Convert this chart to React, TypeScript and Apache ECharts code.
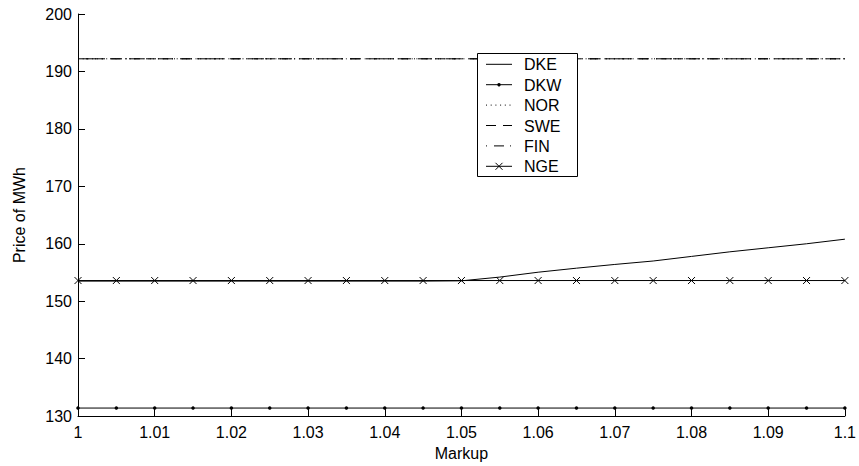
import React, { useEffect, useRef } from "react";
import * as echarts from "echarts";

const markup = [1, 1.005, 1.01, 1.015, 1.02, 1.025, 1.03, 1.035, 1.04, 1.045, 1.05, 1.055, 1.06, 1.065, 1.07, 1.075, 1.08, 1.085, 1.09, 1.095, 1.1];
const dke = [153.5, 153.5, 153.5, 153.5, 153.5, 153.5, 153.5, 153.5, 153.5, 153.5, 153.55, 154.2, 155.05, 155.75, 156.4, 157.0, 157.8, 158.6, 159.3, 160.0, 160.8];
const dkw = [131.4, 131.4, 131.4, 131.4, 131.4, 131.4, 131.4, 131.4, 131.4, 131.4, 131.4, 131.4, 131.4, 131.4, 131.4, 131.4, 131.4, 131.4, 131.4, 131.4, 131.4];
const nor = [192.2, 192.2, 192.2, 192.2, 192.2, 192.2, 192.2, 192.2, 192.2, 192.2, 192.2, 192.2, 192.2, 192.2, 192.2, 192.2, 192.2, 192.2, 192.2, 192.2, 192.2];
const swe = [192.2, 192.2, 192.2, 192.2, 192.2, 192.2, 192.2, 192.2, 192.2, 192.2, 192.2, 192.2, 192.2, 192.2, 192.2, 192.2, 192.2, 192.2, 192.2, 192.2, 192.2];
const fin = [192.2, 192.2, 192.2, 192.2, 192.2, 192.2, 192.2, 192.2, 192.2, 192.2, 192.2, 192.2, 192.2, 192.2, 192.2, 192.2, 192.2, 192.2, 192.2, 192.2, 192.2];
const nge = [153.6, 153.6, 153.6, 153.6, 153.6, 153.6, 153.6, 153.6, 153.6, 153.6, 153.6, 153.6, 153.6, 153.6, 153.6, 153.6, 153.6, 153.6, 153.6, 153.6, 153.6];
const legendNames = ["DKE", "DKW", "NOR", "SWE", "FIN", "NGE"];

const FONT = "Liberation Sans, Arial, sans-serif";
const FS = 16;
const X_PATH = "path://M0,0L10,10M10,0L0,10";

const pairs = (ys: number[]) => markup.map((x, i) => [x, ys[i]]);

const dashes: Record<string, number[] | null> = {
  DKE: null,
  DKW: null,
  NOR: [1, 3.7],
  SWE: [10, 7],
  FIN: [1, 7, 10, 6],
  NGE: null,
};

export default function App() {
  const ref = useRef<HTMLDivElement>(null);
  useEffect(() => {
    if (!ref.current) return;
    const chart = echarts.init(ref.current, null, { renderer: "svg" });
    const line = (name: string, ys: number[], extra: any = {}) => ({
      name,
      type: "line",
      data: pairs(ys),
      symbol: "none",
      lineStyle: { color: "#000", width: 1, type: dashes[name] || "solid" },
      itemStyle: { color: "#000" },
      ...extra,
    });

    // legend drawn as graphic
    const lx = 477.5, ly = 53.5, lw = 100, lh = 123;
    const rowY0 = 64.3, rowGap = 20.4;
    const legendEls: any[] = [
      { type: "rect", shape: { x: lx, y: ly, width: lw, height: lh }, style: { fill: "#fff", stroke: "#000", lineWidth: 1 }, z: 100 },
    ];
    legendNames.forEach((n, i) => {
      const cy = rowY0 + i * rowGap;
      const d = dashes[n];
      legendEls.push({
        type: "line",
        shape: { x1: 486, y1: cy, x2: 512, y2: cy },
        style: { stroke: "#000", lineWidth: 1, lineDash: d || null },
        z: 101,
      });
      if (n === "DKW") {
        legendEls.push({ type: "circle", shape: { cx: 499, cy, r: 1.7 }, style: { fill: "#000" }, z: 102 });
      }
      if (n === "NGE") {
        legendEls.push({ type: "line", shape: { x1: 495.5, y1: cy - 3.5, x2: 502.5, y2: cy + 3.5 }, style: { stroke: "#000", lineWidth: 1 }, z: 102 });
        legendEls.push({ type: "line", shape: { x1: 502.5, y1: cy - 3.5, x2: 495.5, y2: cy + 3.5 }, style: { stroke: "#000", lineWidth: 1 }, z: 102 });
      }
      legendEls.push({
        type: "text",
        x: 524,
        y: cy + 0.5,
        style: { text: n, fill: "#000", font: `${FS}px ${FONT}`, verticalAlign: "middle", align: "left" },
        z: 102,
      });
    });

    chart.setOption({
      animation: false,
      backgroundColor: "#fff",
      textStyle: { fontFamily: FONT },
      grid: { left: 78, right: 10, top: 14, bottom: 48 },
      xAxis: {
        type: "value",
        min: 1,
        max: 1.1,
        interval: 0.01,
        name: "Markup",
        nameLocation: "middle",
        nameGap: 26,
        nameTextStyle: { color: "#000", fontSize: FS, fontFamily: FONT },
        axisLine: { show: true, lineStyle: { color: "#000", width: 1 } },
        axisTick: { show: true, inside: true, length: 7, lineStyle: { color: "#000" } },
        axisLabel: {
          color: "#000",
          fontSize: FS,
          fontFamily: FONT,
          margin: 8,
          formatter: (v: number) => String(parseFloat(v.toFixed(2))),
        },
        splitLine: { show: false },
      },
      yAxis: {
        type: "value",
        min: 130,
        max: 200,
        interval: 10,
        name: "Price of MWh",
        nameLocation: "middle",
        nameGap: 51,
        nameTextStyle: { color: "#000", fontSize: FS, fontFamily: FONT },
        axisLine: { show: true, lineStyle: { color: "#000", width: 1 } },
        axisTick: { show: true, inside: true, length: 7, lineStyle: { color: "#000" } },
        axisLabel: { color: "#000", fontSize: FS, fontFamily: FONT, margin: 6 },
        splitLine: { show: false },
      },
      series: [
        line("DKE", dke),
        line("DKW", dkw, { symbol: "circle", symbolSize: 3.5, showSymbol: true }),
        line("NOR", nor),
        line("SWE", swe),
        line("FIN", fin),
        line("NGE", nge, {
          symbol: X_PATH,
          symbolSize: 7,
          showSymbol: true,
          itemStyle: { color: "none", borderColor: "#000", borderWidth: 1 },
        }),
      ],
      graphic: legendEls,
    });
    return () => chart.dispose();
  }, []);
  return <div ref={ref} style={{ position: "fixed", left: 0, top: 0, width: 859, height: 466 }} />;
}
